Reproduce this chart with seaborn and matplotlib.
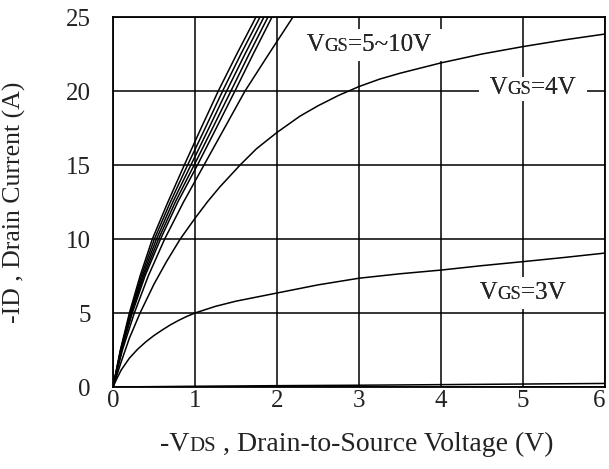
import numpy as np
import pandas as pd
import matplotlib
matplotlib.use("Agg")
import matplotlib.pyplot as plt
import seaborn as sns

# drain current levels (A) at which the VGS=5..10V curves were read
ID_LEVELS = [0, 2.5, 5, 7.5, 10, 12.5, 15, 17.5, 20, 22.5, 25]
VDS_10V = [0, 0.09, 0.20, 0.33, 0.48, 0.67, 0.87, 1.075, 1.284, 1.51, 1.744]
VDS_9V = [0, 0.093, 0.21, 0.345, 0.505, 0.70, 0.91, 1.125, 1.337, 1.56, 1.793]
VDS_8V = [0, 0.096, 0.215, 0.36, 0.53, 0.73, 0.95, 1.17, 1.386, 1.61, 1.841]
VDS_7V = [0, 0.10, 0.225, 0.375, 0.555, 0.76, 0.99, 1.215, 1.438, 1.66, 1.890]
VDS_6V = [0, 0.105, 0.235, 0.39, 0.58, 0.79, 1.03, 1.26, 1.487, 1.71, 1.939]
VDS_5V = [0, 0.115, 0.26, 0.43, 0.63, 0.86, 1.11, 1.36, 1.61, 1.90, 2.195]

# VGS=4V
VDS_4V = [0, 0.1, 0.2, 0.33, 0.5, 0.65, 0.82, 1.0, 1.15, 1.3, 1.55, 1.75,
          2.0, 2.28, 2.5, 2.75, 3.0, 3.25, 3.5, 4.0, 4.5, 5.0, 5.5, 6.0]
ID_4V = [0, 1.7, 3.3, 5.0, 6.95, 8.45, 10.0, 11.4, 12.5, 13.5, 15.0, 16.1,
         17.2, 18.3, 19.0, 19.7, 20.3, 20.8, 21.2, 21.9, 22.5, 23.0, 23.45,
         23.85]

# VGS=3V
VDS_3V = [0, 0.05, 0.1, 0.2, 0.3, 0.4, 0.5, 0.6, 0.7, 0.8, 0.9, 1.0, 1.25,
          1.5, 2.0, 2.5, 3.0, 3.5, 4.0, 4.5, 5.0, 5.5, 6.0]
ID_3V = [0, 0.6, 1.15, 1.95, 2.55, 3.05, 3.48, 3.85, 4.2, 4.5, 4.77, 5.0,
         5.45, 5.8, 6.35, 6.9, 7.35, 7.65, 7.9, 8.2, 8.47, 8.75, 9.05]

# VGS=2V (almost flat along the axis)
VDS_2V = [0, 1, 2, 3, 4, 5, 6]
ID_2V = [0, 0.05, 0.09, 0.12, 0.16, 0.2, 0.24]

X_TICKS = [0, 1, 2, 3, 4, 5, 6]
Y_TICKS = [0, 5, 10, 15, 20, 25]


def build_frame():
    rows = []
    bundle = {"10V": VDS_10V, "9V": VDS_9V, "8V": VDS_8V,
              "7V": VDS_7V, "6V": VDS_6V, "5V": VDS_5V}
    for name, vds in bundle.items():
        for v, i in zip(vds, ID_LEVELS):
            rows.append((name, v, i))
    for name, vds, ids in [("4V", VDS_4V, ID_4V), ("3V", VDS_3V, ID_3V),
                           ("2V", VDS_2V, ID_2V)]:
        for v, i in zip(vds, ids):
            rows.append((name, v, i))
    return pd.DataFrame(rows, columns=["vgs", "vds", "id"])


def vgs_pieces(ax, x, y, rest, box, zorder):
    kw = dict(ha="left", zorder=zorder)
    if box:
        kw["bbox"] = dict(boxstyle="square,pad=0.2", fc="white", ec="none")
    t1 = ax.text(x, y, " V", fontsize=18, va="center", **kw)
    t2 = ax.annotate("GS", xy=(1, 0), xycoords=t1, xytext=(0, 1),
                     textcoords="offset points", fontsize=13.5,
                     va="bottom", **kw)
    ax.annotate(rest, xy=(1, 0), xycoords=t2, xytext=(0, -1),
                textcoords="offset points", fontsize=18, va="bottom", **kw)


def vgs_label(ax, x, y, rest):
    """VGS label with small-caps 'GS' and a white box that breaks the grid."""
    # first pass: white boxes only (text hidden below the second pass)
    vgs_pieces(ax, x, y, rest, True, 4)
    # second pass: the glyphs on top of all boxes
    vgs_pieces(ax, x, y, rest, False, 5)


def x_label(fig, ax):
    """x axis title with small-caps 'DS'."""
    col = "#222222"
    t1 = fig.text(160 / 609, 1 - 432 / 469, "-V", fontsize=20,
                  va="top", ha="left", color=col)
    t2 = ax.annotate("DS", xy=(1, 0), xycoords=t1, xytext=(0, 1),
                     textcoords="offset points", fontsize=15,
                     va="bottom", ha="left", color=col)
    ax.annotate(" , Drain-to-Source Voltage (V)", xy=(1, 0), xycoords=t2,
                xytext=(0, -1), textcoords="offset points", fontsize=20,
                va="bottom", ha="left", color=col)


def main():
    sns.set_theme(style="white")
    plt.rcParams["font.family"] = ["Liberation Serif", "DejaVu Serif"]

    df = build_frame()

    fig = plt.figure(figsize=(6.09, 4.69), dpi=100)
    ax = fig.add_axes([113 / 609, 1 - 387 / 469, 492 / 609, 370 / 469])

    palette = {k: "black" for k in df["vgs"].unique()}
    sns.lineplot(data=df, x="vds", y="id", hue="vgs", units="vgs",
                 estimator=None, palette=palette, linewidth=1.1,
                 legend=False, ax=ax, zorder=2)

    ax.set_xlim(0, 6)
    ax.set_ylim(0, 25)
    ax.set_xticks(X_TICKS)
    ax.set_yticks(Y_TICKS)
    ax.grid(True, color="black", linewidth=1.1)
    ax.set_axisbelow(True)
    for s in ax.spines.values():
        s.set_color("black")
        s.set_linewidth(1.3)

    ax.tick_params(length=0, labelsize=18, colors="#222222")
    ax.tick_params(axis="x", pad=2)
    ax.tick_params(axis="y", pad=16)
    # last x tick label would run past the figure edge
    ax.get_xticklabels()[-1].set_horizontalalignment("right")

    ax.set_xlabel("")
    x_label(fig, ax)
    ax.set_ylabel("-ID , Drain Current (A)", fontsize=18.5, color="#222222")
    ax.yaxis.set_label_coords(-0.177, 0.5)

    vgs_label(ax, 2.29, 23.1, "=5~10V ")
    vgs_label(ax, 4.52, 20.2, "=4V ")
    vgs_label(ax, 4.40, 6.35, "=3V ")

    fig.savefig("out.png", dpi=100)
    plt.close(fig)


if __name__ == "__main__":
    main()
